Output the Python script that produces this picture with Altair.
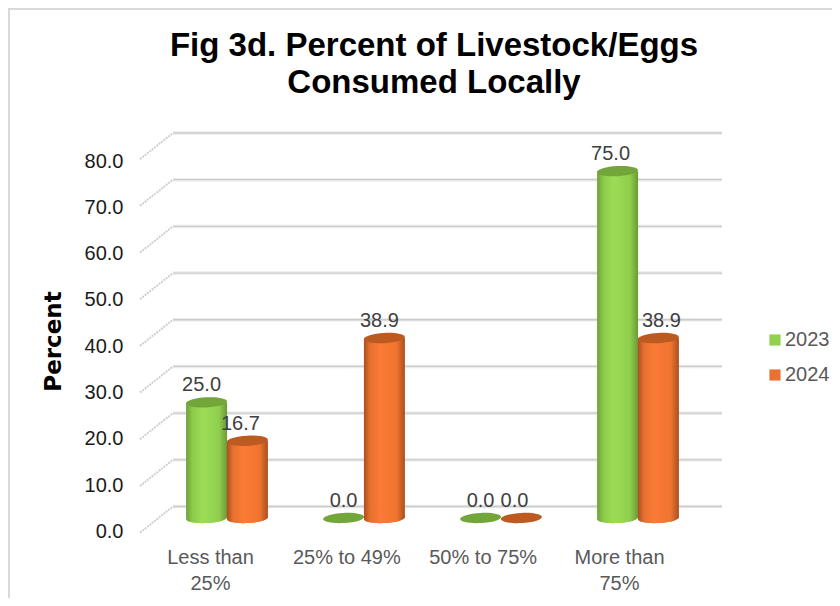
import altair as alt
import pandas as pd

categories = ["Less than 25%", "25% to 49%", "50% to 75%", "More than 75%"]
series_names = ["2023", "2024"]
values_2023 = [25.0, 0.0, 0.0, 75.0]
values_2024 = [16.7, 38.9, 0.0, 38.9]
ticks = [0, 10, 20, 30, 40, 50, 60, 70, 80]
label_nudge_2023 = [-5, 0, 0, -7]
label_nudge_2024 = [-7, -5, -7, 3]

rows = []
for s, (vals, nudges, off) in zip(series_names, [(values_2023, label_nudge_2023, -0.149), (values_2024, label_nudge_2024, 0.149)]):
    for i, c in enumerate(categories):
        rows.append({"category": c, "series": s, "value": vals[i], "zero": 0,
                     "pos": i + off, "labelpos": i + off + nudges[i] / 137,
                     "label": f"{vals[i]:.1f}"})
df = pd.DataFrame(rows)
grid = pd.DataFrame({"tick": ticks, "front": [t - 5.6 for t in ticks]})

FONT = "Liberation Sans"
W, H = 824, 590
x_scale = alt.Scale(domain=[0, 3], range=[219, 630], zero=False, nice=False, padding=0)
cyl_y = alt.Scale(domain=[0, 80], range=[510, 140], zero=False, nice=False)
wall_y = alt.Scale(domain=[0, 80], range=[498.5, 125], zero=False, nice=False)
front_y = alt.Scale(domain=[0, 80], range=[523.5, 153], zero=False, nice=False)
cat_x = alt.Scale(type="point", domain=categories, range=[202, 611], padding=0)
color_scale = alt.Scale(domain=series_names, range=["#92d050", "#e97132"])
ELLIPSE = "M-1,0A1,0.25,0,1,1,1,0A1,0.25,0,1,1,-1,0Z"
BAR_W = 41

border_top = alt.Chart(grid).mark_rule(color="#d9d9d9", strokeWidth=1.5).encode(
    x=alt.value(0), x2=alt.value(W), y=alt.value(1), y2=alt.value(1))
border_left = alt.Chart(grid).mark_rule(color="#d9d9d9", strokeWidth=1.5).encode(
    y=alt.value(0), y2=alt.value(H), x=alt.value(1))
gridwide = alt.Chart(grid).mark_rule(color="#ececec", strokeWidth=3.5).encode(
    x=alt.value(165), x2=alt.value(714), y=alt.Y("tick:Q", scale=wall_y, axis=None))
gridline = alt.Chart(grid).mark_rule(color="#cccccc", strokeWidth=1.3).encode(
    x=alt.value(165), x2=alt.value(714), y=alt.Y("tick:Q", scale=wall_y, axis=None))
slants = alt.Chart(grid).mark_rule(color="#cfcfcf", strokeWidth=2, strokeDash=[2, 1]).encode(
    x=alt.value(132), x2=alt.value(165),
    y=alt.Y("front:Q", scale=wall_y, axis=None), y2="tick:Q")

axes = alt.Chart(df).mark_point(opacity=0).encode(
    x=alt.X("category:N", scale=cat_x, title=None, sort=categories,
            axis=alt.Axis(domain=False, ticks=False, grid=False, offset=-51, labelPadding=0,
                          labelFont=FONT, labelFontSize=20, labelColor="#595959", labelAngle=0,
                          labelLineHeight=26, labelLimit=0, labelBaseline="top",
                          labelExpr="datum.label == 'Less than 25%' ? ['Less than','25%'] : datum.label == 'More than 75%' ? ['More than','75%'] : datum.label")),
    y=alt.Y("value:Q", scale=front_y, title="Percent",
            axis=alt.Axis(values=ticks, format=".1f", domain=False, ticks=False, grid=False,
                          offset=-115, labelPadding=0, labelFont=FONT, labelFontSize=20,
                          labelColor="#1a1a1a", titleFont="DejaVu Sans", titleFontWeight="bold",
                          titleFontSize=23, titleColor="#000000", titleX=-58, titleY=333)),
)


def series_layers(name, stops, top_color):
    grad = alt.Gradient(gradient="linear", stops=[alt.GradientStop(offset=o, color=c) for o, c in stops],
                        x1=0, x2=1, y1=0, y2=0)
    d = alt.Chart(df).transform_filter(alt.datum.series == name)
    standing = d.transform_filter(alt.datum.value > 0)
    base = standing.mark_point(
        shape=ELLIPSE, size=BAR_W ** 2, filled=True, opacity=1, angle=357).encode(
        x=alt.X("pos:Q", scale=x_scale, axis=None),
        y=alt.Y("zero:Q", scale=cyl_y, axis=None),
        color=alt.Color("series:N", scale=color_scale, title=None,
                        legend=alt.Legend(orient="none", legendX=757, legendY=322, symbolType="square",
                                          symbolSize=125, symbolStrokeWidth=0, labelFont=FONT,
                                          labelFontSize=20, labelColor="#595959", rowPadding=15,
                                          labelOffset=0)),
    )
    base_shaded = standing.mark_point(
        shape=ELLIPSE, size=BAR_W ** 2, filled=True, opacity=1, angle=357, color=grad).encode(
        x=alt.X("pos:Q", scale=x_scale, axis=None),
        y=alt.Y("zero:Q", scale=cyl_y, axis=None),
    )
    bar = standing.mark_bar(size=BAR_W, orient="vertical", color=grad).encode(
        x=alt.X("pos:Q", scale=x_scale, axis=None),
        y=alt.Y("value:Q", scale=cyl_y, axis=None),
        y2="zero:Q",
    )
    top = d.mark_point(shape=ELLIPSE, size=BAR_W ** 2, filled=True, opacity=1, color=top_color, angle=357).encode(
        x=alt.X("pos:Q", scale=x_scale, axis=None),
        y=alt.Y("value:Q", scale=cyl_y, axis=None),
    )
    return [base, base_shaded, bar, top]


green = series_layers("2023", [(0, "#6f9f3a"), (0.15, "#8cc94a"), (0.4, "#9cdc55"), (0.8, "#90cf4e"), (1, "#6b9a36")], "#72a63a")
orange = series_layers("2024", [(0, "#a9501f"), (0.15, "#e8702f"), (0.4, "#fa7b35"), (0.8, "#f0742f"), (1, "#a9501f")], "#bc5a22")

labels = alt.Chart(df).mark_text(font=FONT, fontSize=20, color="#404040", baseline="middle", dy=-17).encode(
    x=alt.X("labelpos:Q", scale=x_scale, axis=None),
    y=alt.Y("value:Q", scale=cyl_y, axis=None),
    text="label:N",
)

chart = alt.layer(border_top, border_left, gridwide, gridline, slants, axes, *green, *orange, labels).resolve_scale(
    x="independent", y="independent", color="shared"
).properties(
    width=W, height=H, padding=0, autosize=alt.AutoSizeParams(type="none"),
    title=alt.TitleParams(["Fig 3d. Percent of Livestock/Eggs", "Consumed Locally"], font=FONT, fontSize=33,
                          fontWeight="bold", color="#000000", anchor="middle", frame="group",
                          baseline="top", lineHeight=37, dx=14, dy=93, offset=0),
).configure_view(stroke=None)

chart.save("out.html", embed_options={"renderer": "svg", "actions": False})
